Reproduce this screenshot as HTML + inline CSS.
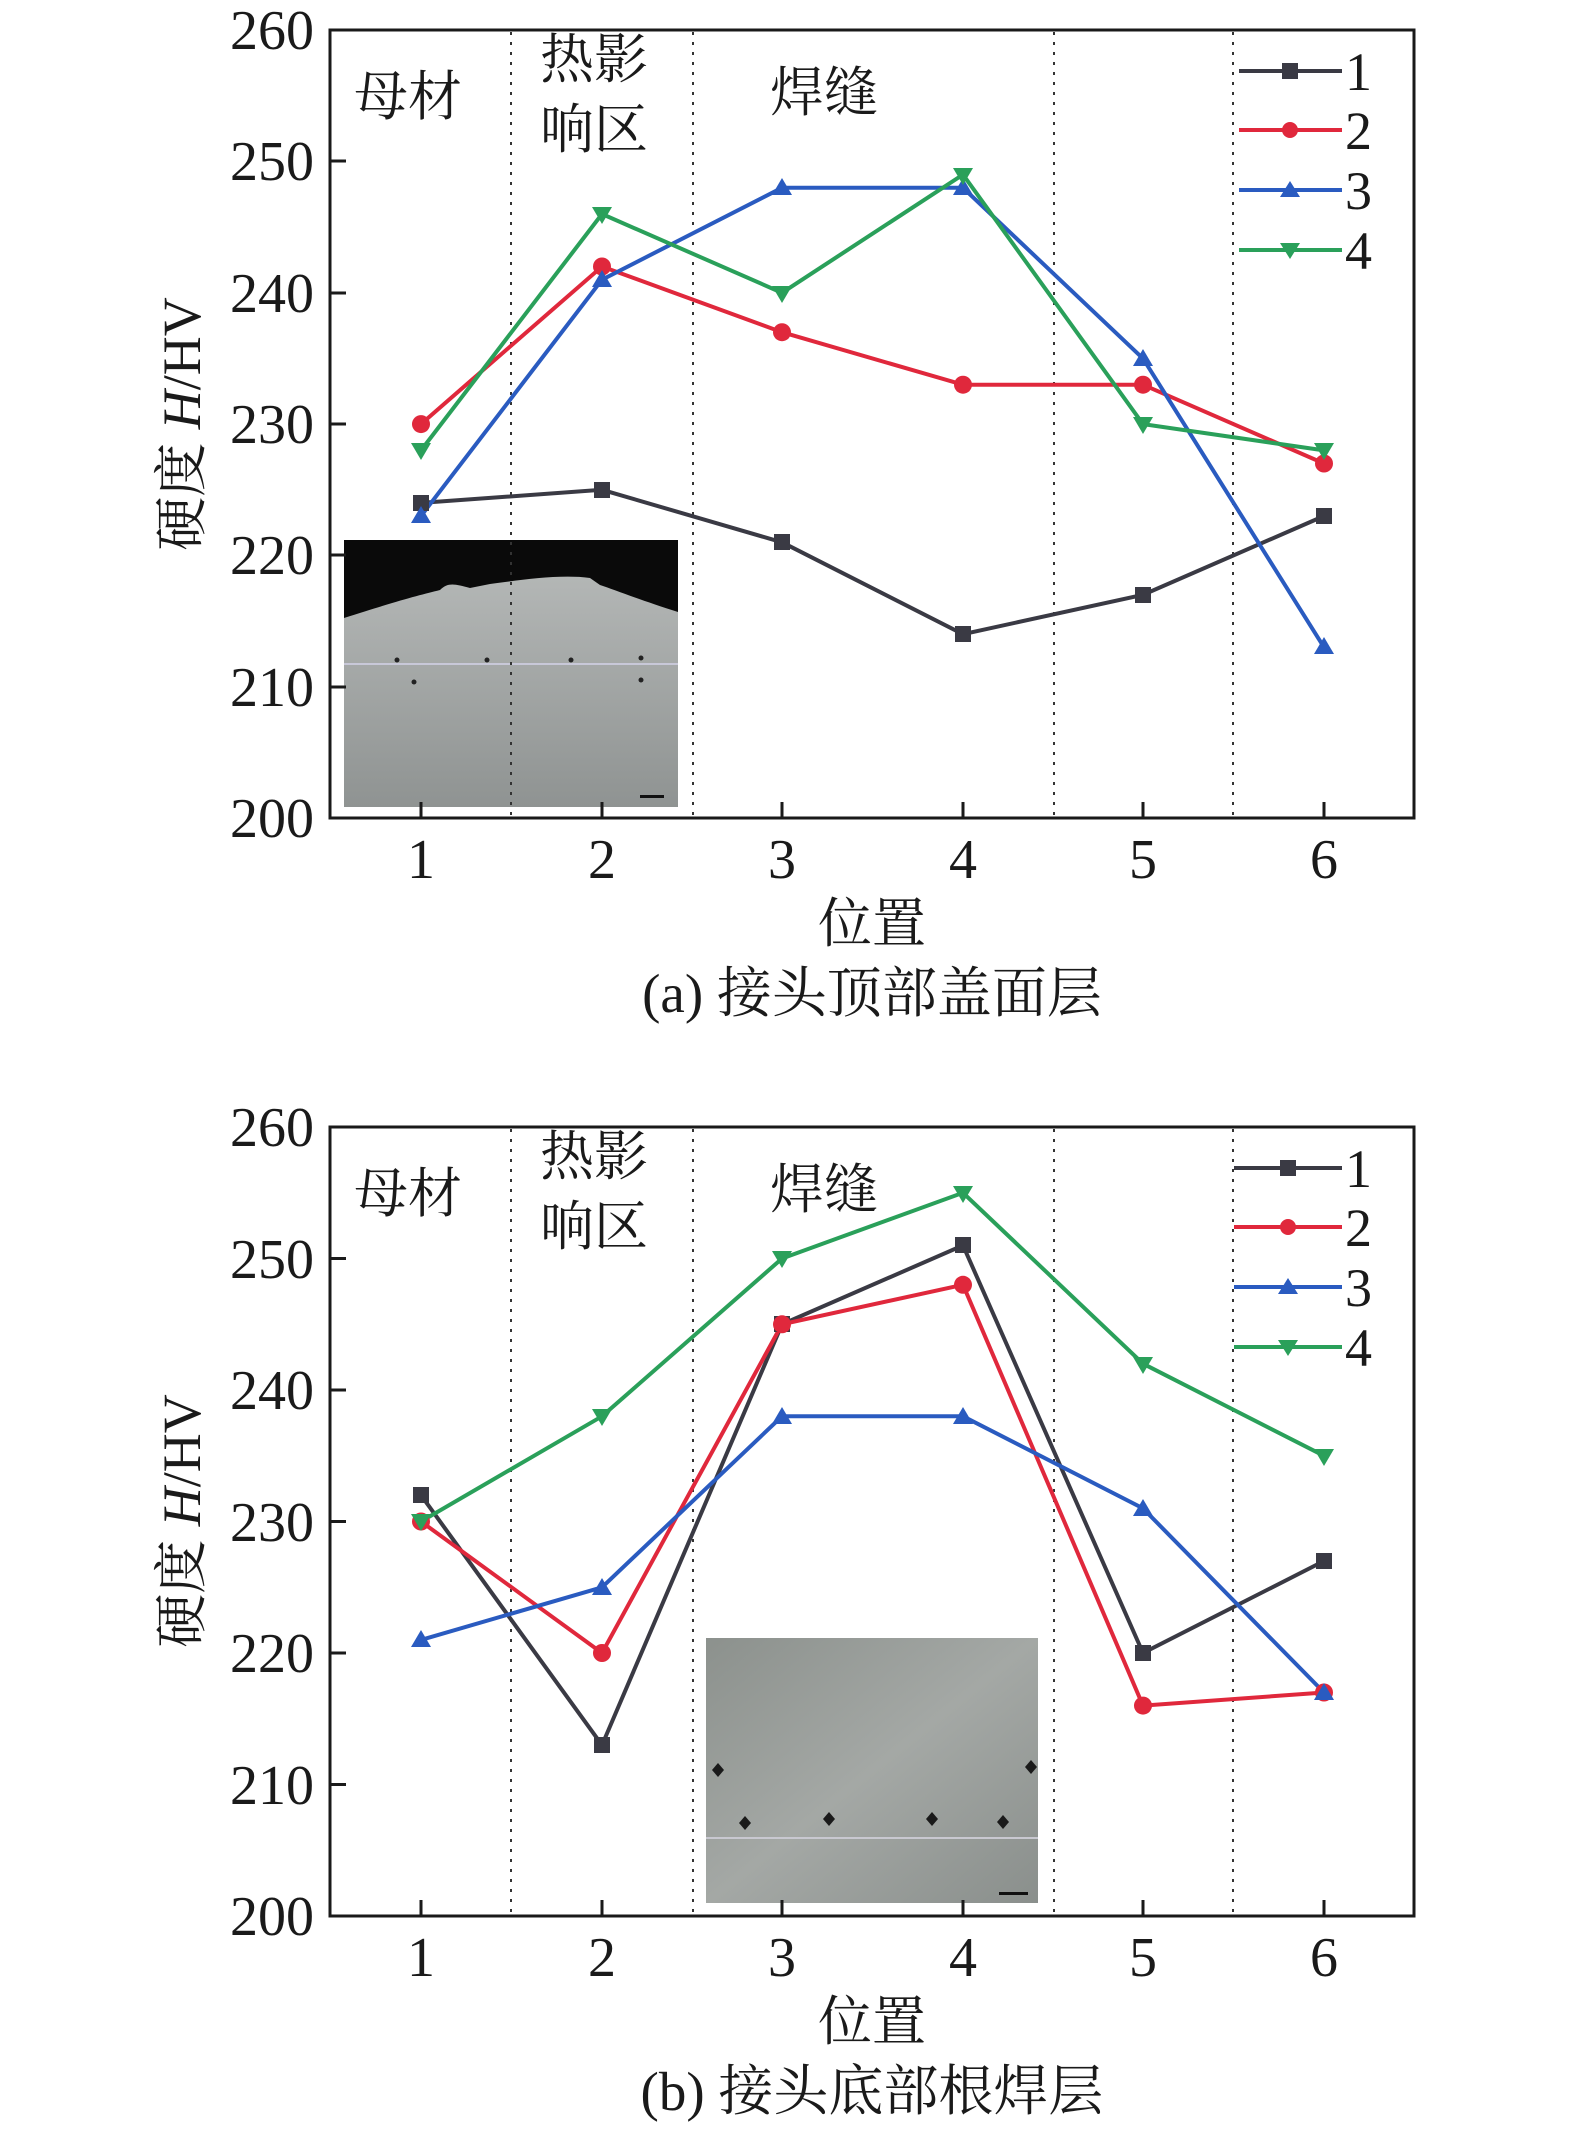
<!DOCTYPE html>
<html><head><meta charset="utf-8"><style>
html,body{margin:0;padding:0;background:#fff}
svg{display:block}
text{font-family:"Liberation Serif","Noto Serif CJK SC",serif;fill:#1a1a1a}
</style></head><body>
<svg width="1575" height="2130" viewBox="0 0 1575 2130" xmlns="http://www.w3.org/2000/svg">
<defs>
<linearGradient id="g1" x1="0" y1="0" x2="0" y2="1"><stop offset="0" stop-color="#b9bcbb"/><stop offset="1" stop-color="#8f9392"/></linearGradient>
<linearGradient id="g2" x1="0" y1="0" x2="1" y2="1"><stop offset="0" stop-color="#8c918d"/><stop offset="0.5" stop-color="#a4a8a5"/><stop offset="1" stop-color="#8a8f8c"/></linearGradient>
</defs>

<!-- ===== Chart A ===== -->
<g>
<rect x="330" y="30" width="1084" height="788" fill="none" stroke="#1a1a1a" stroke-width="3"/>
<rect x="344" y="540" width="334" height="267" fill="url(#g1)"/>
<path d="M344 540 H678 V612 C640 600 615 590 600 585 L590 578 C560 574 520 580 490 584 L470 588 C455 584 448 582 440 590 C420 595 400 600 344 618 Z" fill="#0a0a0a"/>
<line x1="344" y1="664" x2="678" y2="664" stroke="#c8c8d8" stroke-width="2"/>
<g fill="#222"><circle cx="397" cy="660" r="2.5"/><circle cx="414" cy="682" r="2.5"/><circle cx="487" cy="660" r="2.5"/><circle cx="571" cy="660" r="2.5"/><circle cx="641" cy="658" r="2.5"/><circle cx="641" cy="680" r="2.5"/></g>
<rect x="640" y="795" width="24" height="3" fill="#111"/>
<g stroke="#333" stroke-width="2" stroke-dasharray="3,7">
<line x1="511" y1="32" x2="511" y2="816"/><line x1="693" y1="32" x2="693" y2="816"/>
<line x1="1054" y1="32" x2="1054" y2="816"/><line x1="1233" y1="32" x2="1233" y2="816"/>
</g>
<g stroke="#1a1a1a" stroke-width="3">
<line x1="421" y1="818" x2="421" y2="802"/><line x1="602" y1="818" x2="602" y2="802"/><line x1="782" y1="818" x2="782" y2="802"/><line x1="963" y1="818" x2="963" y2="802"/><line x1="1143" y1="818" x2="1143" y2="802"/><line x1="1324" y1="818" x2="1324" y2="802"/>
<line x1="330" y1="687" x2="346" y2="687"/><line x1="330" y1="555" x2="346" y2="555"/><line x1="330" y1="424" x2="346" y2="424"/><line x1="330" y1="293" x2="346" y2="293"/><line x1="330" y1="161" x2="346" y2="161"/>
</g>
<g font-size="56" text-anchor="end">
<text x="314" y="837">200</text><text x="314" y="706">210</text><text x="314" y="574">220</text><text x="314" y="443">230</text><text x="314" y="312">240</text><text x="314" y="180">250</text><text x="314" y="49">260</text>
</g>
<g font-size="56" text-anchor="middle">
<text x="421" y="878">1</text><text x="602" y="878">2</text><text x="782" y="878">3</text><text x="963" y="878">4</text><text x="1143" y="878">5</text><text x="1324" y="878">6</text>
</g>
<text x="872" y="942" font-size="54" text-anchor="middle">位置</text>
<text x="872" y="1012" font-size="55" text-anchor="middle">(a) 接头顶部盖面层</text>
<text transform="translate(200,424) rotate(-90)" font-size="54" text-anchor="middle">硬度 <tspan font-style="italic">H</tspan>/HV</text>
<g font-size="54"><text x="354" y="115">母材</text><text x="540" y="78">热影</text><text x="540" y="148">响区</text><text x="770" y="111">焊缝</text></g>
<polyline points="421,502.9 602,489.8 782,542.3 963,634.2 1143,594.8 1324,516" fill="none" stroke="#3a3a44" stroke-width="4"/>
<polyline points="421,424.1 602,266.5 782,332.2 963,384.7 1143,384.7 1324,463.5" fill="none" stroke="#e0283c" stroke-width="4"/>
<polyline points="421,516 602,279.7 782,187.8 963,187.8 1143,358.5 1324,647.3" fill="none" stroke="#2a5bc0" stroke-width="4"/>
<polyline points="421,450.4 602,214 782,292.8 963,174.6 1143,424.1 1324,450.4" fill="none" stroke="#2aa05a" stroke-width="4"/>
<g fill="#3a3a44"><rect x="413" y="495" width="16" height="16"/><rect x="594" y="482" width="16" height="16"/><rect x="774" y="534" width="16" height="16"/><rect x="955" y="626" width="16" height="16"/><rect x="1135" y="587" width="16" height="16"/><rect x="1316" y="508" width="16" height="16"/></g>
<g fill="#e0283c"><circle cx="421" cy="424.1" r="9"/><circle cx="602" cy="266.5" r="9"/><circle cx="782" cy="332.2" r="9"/><circle cx="963" cy="384.7" r="9"/><circle cx="1143" cy="384.7" r="9"/><circle cx="1324" cy="463.5" r="9"/></g>
<g fill="#2a5bc0"><path d="M421,506 l10,17 h-20z"/><path d="M602,270 l10,17 h-20z"/><path d="M782,178 l10,17 h-20z"/><path d="M963,178 l10,17 h-20z"/><path d="M1143,349 l10,17 h-20z"/><path d="M1324,637 l10,17 h-20z"/></g>
<g fill="#2aa05a"><path d="M421,460 l10,-17 h-20z"/><path d="M602,224 l10,-17 h-20z"/><path d="M782,303 l10,-17 h-20z"/><path d="M963,185 l10,-17 h-20z"/><path d="M1143,434 l10,-17 h-20z"/><path d="M1324,460 l10,-17 h-20z"/></g>
<g stroke-width="4">
<line x1="1239" y1="71" x2="1342" y2="71" stroke="#3a3a44"/><line x1="1239" y1="130" x2="1342" y2="130" stroke="#e0283c"/><line x1="1239" y1="190" x2="1342" y2="190" stroke="#2a5bc0"/><line x1="1239" y1="250" x2="1342" y2="250" stroke="#2aa05a"/>
</g>
<rect x="1282" y="63" width="16" height="16" fill="#3a3a44"/><circle cx="1290" cy="130" r="8" fill="#e0283c"/><path d="M1290,181 l10,16 h-20z" fill="#2a5bc0"/><path d="M1290,259 l10,-16 h-20z" fill="#2aa05a"/>
<g font-size="54"><text x="1345" y="90">1</text><text x="1345" y="149">2</text><text x="1345" y="209">3</text><text x="1345" y="269">4</text></g>
</g>

<!-- ===== Chart B ===== -->
<g>
<rect x="330" y="1127" width="1084" height="789" fill="none" stroke="#1a1a1a" stroke-width="3"/>
<rect x="706" y="1638" width="332" height="265" fill="url(#g2)"/>
<line x1="706" y1="1838" x2="1038" y2="1838" stroke="#c8c8d0" stroke-width="2"/>
<g fill="#1a1a1a"><path d="M712 1770 l6 -7 6 7 -6 7z"/><path d="M1025 1767 l6 -7 6 7 -6 7z"/><path d="M739 1823 l6 -7 6 7 -6 7z"/><path d="M823 1819 l6 -7 6 7 -6 7z"/><path d="M926 1819 l6 -7 6 7 -6 7z"/><path d="M997 1822 l6 -7 6 7 -6 7z"/></g>
<rect x="999" y="1892" width="29" height="3" fill="#111"/>
<g stroke="#333" stroke-width="2" stroke-dasharray="3,7">
<line x1="511" y1="1129" x2="511" y2="1914"/><line x1="693" y1="1129" x2="693" y2="1914"/>
<line x1="1054" y1="1129" x2="1054" y2="1914"/><line x1="1233" y1="1129" x2="1233" y2="1914"/>
</g>
<g stroke="#1a1a1a" stroke-width="3">
<line x1="421" y1="1916" x2="421" y2="1900"/><line x1="602" y1="1916" x2="602" y2="1900"/><line x1="782" y1="1916" x2="782" y2="1900"/><line x1="963" y1="1916" x2="963" y2="1900"/><line x1="1143" y1="1916" x2="1143" y2="1900"/><line x1="1324" y1="1916" x2="1324" y2="1900"/>
<line x1="330" y1="1784.5" x2="346" y2="1784.5"/><line x1="330" y1="1653" x2="346" y2="1653"/><line x1="330" y1="1521.5" x2="346" y2="1521.5"/><line x1="330" y1="1390" x2="346" y2="1390"/><line x1="330" y1="1258.5" x2="346" y2="1258.5"/>
</g>
<g font-size="56" text-anchor="end">
<text x="314" y="1935">200</text><text x="314" y="1804">210</text><text x="314" y="1672">220</text><text x="314" y="1541">230</text><text x="314" y="1409">240</text><text x="314" y="1278">250</text><text x="314" y="1146">260</text>
</g>
<g font-size="56" text-anchor="middle">
<text x="421" y="1976">1</text><text x="602" y="1976">2</text><text x="782" y="1976">3</text><text x="963" y="1976">4</text><text x="1143" y="1976">5</text><text x="1324" y="1976">6</text>
</g>
<text x="872" y="2040" font-size="54" text-anchor="middle">位置</text>
<text x="872" y="2110" font-size="55" text-anchor="middle">(b) 接头底部根焊层</text>
<text transform="translate(200,1521) rotate(-90)" font-size="54" text-anchor="middle">硬度 <tspan font-style="italic">H</tspan>/HV</text>
<g font-size="54"><text x="354" y="1212">母材</text><text x="540" y="1175">热影</text><text x="540" y="1245">响区</text><text x="770" y="1208">焊缝</text></g>
<polyline points="421,1495.2 602,1745.1 782,1324.3 963,1245.4 1143,1653 1324,1561" fill="none" stroke="#3a3a44" stroke-width="4"/>
<polyline points="421,1521.5 602,1653 782,1324.3 963,1284.8 1143,1705.6 1324,1692.5" fill="none" stroke="#e0283c" stroke-width="4"/>
<polyline points="421,1639.9 602,1587.3 782,1416.3 963,1416.3 1143,1508.4 1324,1692.5" fill="none" stroke="#2a5bc0" stroke-width="4"/>
<polyline points="421,1521.5 602,1416.3 782,1258.5 963,1192.8 1143,1363.7 1324,1455.8" fill="none" stroke="#2aa05a" stroke-width="4"/>
<g fill="#3a3a44"><rect x="413" y="1487" width="16" height="16"/><rect x="594" y="1737" width="16" height="16"/><rect x="774" y="1316" width="16" height="16"/><rect x="955" y="1237" width="16" height="16"/><rect x="1135" y="1645" width="16" height="16"/><rect x="1316" y="1553" width="16" height="16"/></g>
<g fill="#e0283c"><circle cx="421" cy="1521.5" r="9"/><circle cx="602" cy="1653" r="9"/><circle cx="782" cy="1324.3" r="9"/><circle cx="963" cy="1284.8" r="9"/><circle cx="1143" cy="1705.6" r="9"/><circle cx="1324" cy="1692.5" r="9"/></g>
<g fill="#2a5bc0"><path d="M421,1630 l10,17 h-20z"/><path d="M602,1578 l10,17 h-20z"/><path d="M782,1407 l10,17 h-20z"/><path d="M963,1407 l10,17 h-20z"/><path d="M1143,1499 l10,17 h-20z"/><path d="M1324,1683 l10,17 h-20z"/></g>
<g fill="#2aa05a"><path d="M421,1531 l10,-17 h-20z"/><path d="M602,1426 l10,-17 h-20z"/><path d="M782,1268 l10,-17 h-20z"/><path d="M963,1203 l10,-17 h-20z"/><path d="M1143,1374 l10,-17 h-20z"/><path d="M1324,1466 l10,-17 h-20z"/></g>
<g stroke-width="4">
<line x1="1234" y1="1168" x2="1342" y2="1168" stroke="#3a3a44"/><line x1="1234" y1="1227" x2="1342" y2="1227" stroke="#e0283c"/><line x1="1234" y1="1287" x2="1342" y2="1287" stroke="#2a5bc0"/><line x1="1234" y1="1347" x2="1342" y2="1347" stroke="#2aa05a"/>
</g>
<rect x="1280" y="1160" width="16" height="16" fill="#3a3a44"/><circle cx="1288" cy="1227" r="8" fill="#e0283c"/><path d="M1288,1278 l10,16 h-20z" fill="#2a5bc0"/><path d="M1288,1356 l10,-16 h-20z" fill="#2aa05a"/>
<g font-size="54"><text x="1345" y="1187">1</text><text x="1345" y="1246">2</text><text x="1345" y="1306">3</text><text x="1345" y="1366">4</text></g>
</g>
</svg>
</body></html>
